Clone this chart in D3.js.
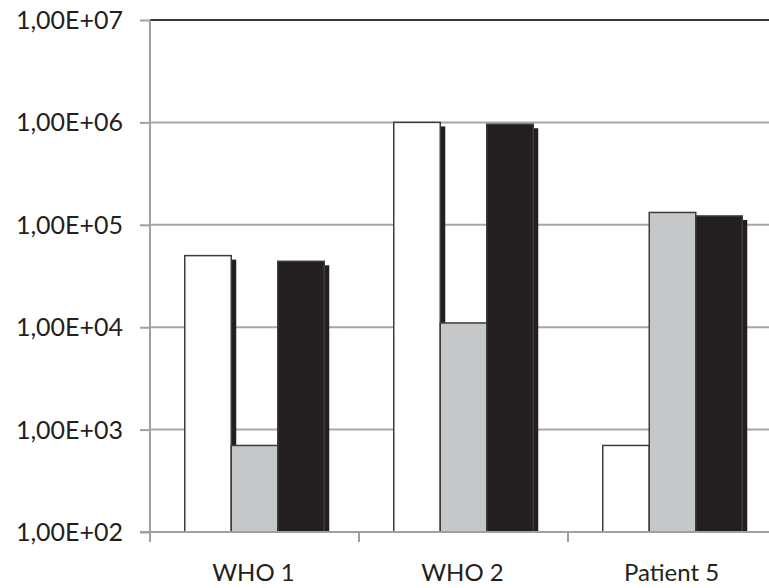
<!DOCTYPE html>
<html>
<head>
<meta charset="utf-8">
<script src="https://cdn.jsdelivr.net/npm/d3@7"></script>
<style>
  html, body { margin: 0; padding: 0; background: #fff; }
  svg { display: block; }
  text { font-family: Lato, "Open Sans", sans-serif; fill: #231f20; }
</style>
</head>
<body>
<svg id="chart" width="769" height="588"></svg>
<script>
// Samples and measured copy numbers (three series per sample)
const categories = ["WHO 1", "WHO 2", "Patient 5"];
const seriesA = [50000, 1000000, 700];     // white bars
const seriesB = [700, 11000, 132000];      // grey bars
const seriesC = [44000, 960000, 122000];   // black bars
const tickValues = [1e2, 1e3, 1e4, 1e5, 1e6, 1e7];
const tickLabels = ["1,00E+02", "1,00E+03", "1,00E+04", "1,00E+05", "1,00E+06", "1,00E+07"];

const series = [
  { key: "A", values: seriesA, fill: "#ffffff" },
  { key: "B", values: seriesB, fill: "#c6c7c9" },
  { key: "C", values: seriesC, fill: "#231f20" }
];

const svg = d3.select("#chart");
const W = 769, H = 588;
const x0 = 150, x1 = 777;
const yTop = 20, yBot = 532;

// category bands run past the right edge of the canvas
const x = d3.scaleBand().domain(categories).range([x0, x1]).padding(0);
const barW = 46.5;
const groupOffset = (x.bandwidth() - barW * 3) / 2;

const y = d3.scaleLog().domain([1e2, 1e7]).range([yBot, yTop]);

// horizontal gridlines
svg.append("g").selectAll("line")
  .data(tickValues.slice(1, -1))
  .join("line")
  .attr("x1", x0).attr("x2", W)
  .attr("y1", d => y(d)).attr("y2", d => y(d))
  .attr("stroke", "#a7a7a7").attr("stroke-width", 2);

// top border line
svg.append("line")
  .attr("x1", x0).attr("x2", W)
  .attr("y1", y(1e7)).attr("y2", y(1e7))
  .attr("stroke", "#3a3a3a").attr("stroke-width", 2);

// bars with drop shadows
const shadowDx = 5, shadowDy = 4;
series.forEach((s, si) => {
  const g = svg.append("g");
  categories.forEach((c, ci) => {
    const bx = x(c) + groupOffset + si * barW;
    const by = y(s.values[ci]);
    g.append("rect")
      .attr("x", bx + shadowDx).attr("y", by + shadowDy)
      .attr("width", barW).attr("height", Math.max(0, yBot - by - shadowDy))
      .attr("fill", "#231f20");
    g.append("rect")
      .attr("x", bx).attr("y", by)
      .attr("width", barW).attr("height", yBot - by)
      .attr("fill", s.fill)
      .attr("stroke", "#3c3c3c").attr("stroke-width", 1.5);
  });
});

// y axis
const yAxis = d3.axisLeft(y).tickValues(tickValues)
  .tickFormat((d, i) => tickLabels[i]).tickSize(10).tickPadding(17);
const ga = svg.append("g").attr("transform", `translate(${x0},0)`).call(yAxis);
ga.select(".domain").attr("stroke", "#a0a0a0").attr("stroke-width", 2)
  .attr("d", `M0,${yTop}V${yBot + 1}`);
ga.selectAll(".tick line").attr("stroke", "#a0a0a0").attr("stroke-width", 2);
ga.selectAll(".tick text").attr("font-size", 25).attr("fill", "#231f20")
  .attr("font-family", "Lato, sans-serif").attr("dy", "0.34em");

// x axis
svg.append("line")
  .attr("x1", x0 - 10).attr("x2", W)
  .attr("y1", yBot).attr("y2", yBot)
  .attr("stroke", "#a0a0a0").attr("stroke-width", 2);
svg.append("g").selectAll("line")
  .data(categories)
  .join("line")
  .attr("x1", d => x(d)).attr("x2", d => x(d))
  .attr("y1", yBot).attr("y2", yBot + 10)
  .attr("stroke", "#a0a0a0").attr("stroke-width", 2);
svg.append("g").selectAll("text")
  .data(categories)
  .join("text")
  .attr("x", d => x(d) + x.bandwidth() / 2 - 1)
  .attr("y", 581)
  .attr("text-anchor", "middle")
  .attr("font-size", 24)
  .text(d => d);
</script>
</body>
</html>
